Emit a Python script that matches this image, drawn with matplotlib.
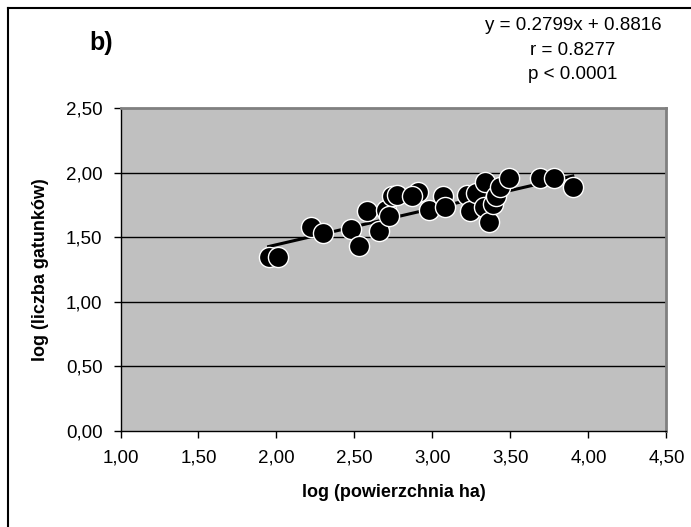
import matplotlib

matplotlib.use("Agg")
import matplotlib.pyplot as plt
from matplotlib.lines import Line2D
from matplotlib.ticker import FuncFormatter, MultipleLocator

# log area (ha) and log species count
log_area = [1.95, 2.01, 2.22, 2.30, 2.48, 2.53, 2.58, 2.66, 2.70, 2.72,
            2.74, 2.77, 2.91, 2.87, 2.98, 3.07, 3.08, 3.22, 3.24, 3.28,
            3.34, 3.33, 3.36, 3.39, 3.41, 3.43, 3.49, 3.69, 3.78, 3.90]
log_species = [1.35, 1.35, 1.58, 1.53, 1.56, 1.43, 1.70, 1.55, 1.71, 1.66,
               1.82, 1.83, 1.85, 1.82, 1.71, 1.82, 1.73, 1.83, 1.70, 1.84,
               1.93, 1.73, 1.62, 1.76, 1.82, 1.89, 1.96, 1.96, 1.96, 1.89]

slope = 0.2799
intercept = 0.8816
stats_text = "y = 0.2799x + 0.8816\nr = 0.8277\np < 0.0001"

plt.rcParams["font.family"] = ["Liberation Sans", "DejaVu Sans"]

fig = plt.figure(figsize=(6.91, 5.27), dpi=100)
ax = fig.add_axes([0.1744, 0.1822, 0.790, 0.613])
ax.set_facecolor("#c0c0c0")

for y in [0.5, 1.0, 1.5, 2.0]:
    ax.axhline(y, color="black", lw=1.0, zorder=1)

x0, x1 = min(log_area), max(log_area)
ax.plot([x0, x1], [slope * x0 + intercept, slope * x1 + intercept],
        color="black", lw=2.2, zorder=2)
ax.plot(log_area, log_species, "o", ms=14.5, mfc="black", mec="white",
        mew=1.0, zorder=3)

ax.set_xlim(1.0, 4.5)
ax.set_ylim(0.0, 2.5)
ax.xaxis.set_major_locator(MultipleLocator(0.5))
ax.yaxis.set_major_locator(MultipleLocator(0.5))
comma = FuncFormatter(lambda v, pos: f"{v:.2f}".replace(".", ","))
ax.xaxis.set_major_formatter(comma)
ax.yaxis.set_major_formatter(comma)
ax.tick_params(direction="out", length=5, width=1, labelsize=13.5,
               color="black", pad=8)

for side in ["left", "bottom"]:
    ax.spines[side].set_color("black")
    ax.spines[side].set_linewidth(1.0)
for side in ["top", "right"]:
    ax.spines[side].set_color("#808080")
    ax.spines[side].set_linewidth(2.0)

ax.set_xlabel("log (powierzchnia ha)", fontsize=13, fontweight="bold",
              labelpad=13)
ax.set_ylabel("log (liczba gatunków)", fontsize=13, fontweight="bold",
              labelpad=12)

fig.text(0.147, 0.918, "b)", fontsize=18, fontweight="bold",
         ha="center", va="center")
fig.text(0.829, 0.905, stats_text, fontsize=13.5, ha="center", va="center",
         linespacing=1.6)

# chart frame (left and top edges visible)
fig.add_artist(Line2D([8 / 691, 8 / 691], [0, 1 - 8 / 527],
                      transform=fig.transFigure, color="black", lw=1.5))
fig.add_artist(Line2D([8 / 691, 1], [1 - 8 / 527, 1 - 8 / 527],
                      transform=fig.transFigure, color="black", lw=1.5))

fig.savefig("out.png", dpi=100)
